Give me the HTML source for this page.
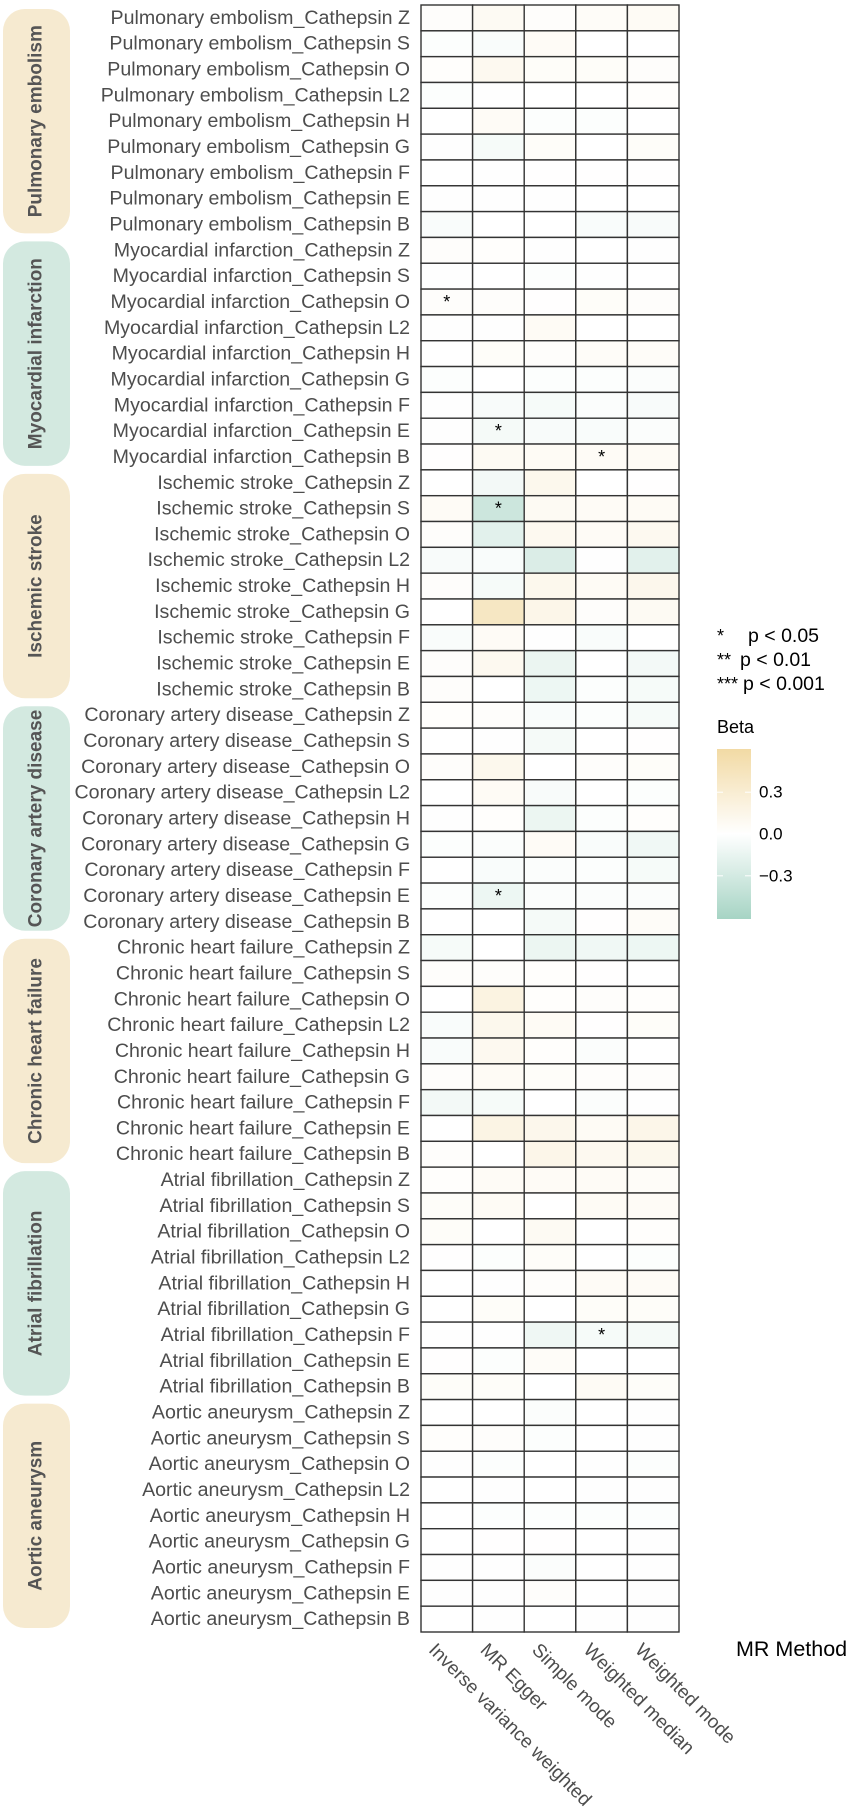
<!DOCTYPE html>
<html><head><meta charset="utf-8"><style>
html,body{margin:0;padding:0;background:#fff;width:852px;height:1808px;overflow:hidden}
svg{display:block;font-family:"Liberation Sans",sans-serif}
</style></head><body>
<svg id="chart" width="852" height="1808" viewBox="0 0 852 1808" xmlns="http://www.w3.org/2000/svg"></svg>
<script>
const methods = ["Inverse variance weighted","MR Egger","Simple mode","Weighted median","Weighted mode"];
const diseases = ["Pulmonary embolism","Myocardial infarction","Ischemic stroke","Coronary artery disease","Chronic heart failure","Atrial fibrillation","Aortic aneurysm"];
const cathepsins = ["Z","S","O","L2","H","G","F","E","B"];
const betaIVW = [.03,-.02,.02,-.02,0,-.01,0,-.01,-.04, .03,-.01,.03,-.01,0,-.02,-.01,-.01,.01, 0,.06,.03,-.05,.03,0,-.04,.03,.03, .02,0,.03,0,-.01,-.02,0,-.02,0, -.06,.03,0,-.04,-.04,.03,-.08,0,.03, .02,.04,.04,.01,0,0,-.01,.01,.04, 0,.02,-.01,0,0,0,-.01,-.01,0];
const betaEgger = [.08,-.04,.1,-.01,.06,-.06,-.01,-.01,0, .02,0,.03,-.01,.04,0,-.05,-.07,.08, -.08,-.35,-.2,-.04,-.06,.4,.06,.1,0, .03,-.01,.12,.07,.02,-.03,-.04,-.12,0, 0,.03,.2,.12,.1,.07,-.06,.18,0, .06,.07,0,-.02,-.01,.04,-.01,-.02,.04, 0,.03,-.02,-.01,-.02,.01,-.01,-.01,-.01];
const betaSimple = [.03,.06,.04,0,-.02,.04,.01,-.01,0, -.01,-.02,.01,.07,.03,-.02,-.06,-.05,.07, .12,.08,.1,-.25,.12,.15,-.01,-.14,-.12, -.04,-.07,0,-.05,-.13,.06,-.03,-.03,-.07, -.13,.02,.02,.07,.02,.04,0,.13,.15, .06,0,.08,.04,.03,0,-.11,.05,0, -.03,-.02,0,0,-.02,.01,-.03,.03,0];
const betaWMedian = [.05,0,.04,0,-.02,0,.01,0,-.04, 0,-.01,.04,0,.05,-.02,-.03,-.04,.06, 0,.06,.06,-.01,.07,.03,-.04,0,-.02, -.02,0,.03,0,-.02,-.04,-.02,-.03,.01, -.1,.01,.03,.01,-.03,.03,-.03,.07,.1, .06,.07,0,0,.06,.04,-.06,0,.07, 0,0,-.01,-.01,-.02,0,0,0,-.01];
const betaWMode = [.07,0,.03,.02,0,.04,.01,0,-.05, -.01,0,.03,0,.05,-.03,-.05,-.03,.07, .01,.07,.1,-.2,.13,.08,0,-.08,-.06, -.06,.01,.04,-.02,.02,-.1,-.06,-.03,.05, -.12,0,.02,.04,0,.03,-.01,.15,.12, .05,.06,.02,-.02,.06,.04,-.07,0,.04, -.01,-.01,-.02,-.01,-.02,-.01,-.01,-.01,-.01];
const sigStars = [[11,0,"*"],[16,1,"*"],[17,3,"*"],[19,1,"*"],[34,1,"*"],[51,3,"*"]];
const legendTicks = [0.3,0.0,-0.3];
const legendStars = [["*","p < 0.05"],["**","p < 0.01"],["***","p < 0.001"]];

const NS="http://www.w3.org/2000/svg";
const svg=document.getElementById("chart");
function mk(t,a,p){const e=document.createElementNS(NS,t);for(const k in a)e.setAttribute(k,a[k]);(p||svg).appendChild(e);return e;}
const X0=421,X1=679,Y0=5,Y1=1632;
const nRows=diseases.length*cathepsins.length;
const cw=(X1-X0)/methods.length, rh=(Y1-Y0)/nRows;
const xPos=i=>X0+i*cw, yPos=r=>Y0+r*rh;
const VMAX=0.61;
const hi=[242,218,164], lo=[166,212,196];
function color(v){const t=Math.max(-1,Math.min(1,v/VMAX));const c=t>=0?hi:lo;const a=Math.abs(t);
 return "rgb("+[0,1,2].map(i=>Math.round(255+(c[i]-255)*a)).join(",")+")";}
const series=[betaIVW,betaEgger,betaSimple,betaWMedian,betaWMode];

diseases.forEach((d,g)=>{
 const y=yPos(g*9)+4,h=9*rh-8;
 const r=mk("rect",{x:3,y:y,width:67,height:h,rx:22,fill:g%2?"#d3e9e0":"#f6ead0"});
 
 
 const cy=y+h/2;
 const t=mk("text",{x:36,y:cy,transform:"rotate(-90 36 "+cy+")","text-anchor":"middle","dominant-baseline":"central","font-size":"19","font-weight":"bold",fill:"#555"});
 t.textContent=d;
 
 
});
for(let r=0;r<nRows;r++){
 const d=diseases[Math.floor(r/9)], c=cathepsins[r%9];
 const lab=mk("text",{x:410,y:yPos(r)+rh/2,"text-anchor":"end","dominant-baseline":"central","font-size":"19.6",fill:"#4d4d4d"});
 lab.textContent=d+"_Cathepsin "+c;
 
 
 for(let m=0;m<methods.length;m++){
  const cell=mk("rect",{x:xPos(m),y:yPos(r),width:cw,height:rh,fill:color(series[m][r]),stroke:"#333","stroke-width":"1.4"});
  
  
 }
}
sigStars.forEach(s=>{
 const t=mk("text",{x:xPos(s[1])+cw/2,y:yPos(s[0])+rh/2+6,"text-anchor":"middle","font-size":"18",fill:"#000"});
 t.textContent=s[2];
 
 
});
methods.forEach((m,i)=>{
 const x=xPos(i)+cw/2-10,y=1642;
 const t=mk("text",{x:x,y:y,transform:"rotate(45 "+x+" "+y+")","font-size":"19",fill:"#4d4d4d","dominant-baseline":"hanging"});
 t.textContent=m;
 
 
});
const xt=mk("text",{x:736,y:1656,"font-size":"21.5",fill:"#000"});xt.textContent="MR Method";


legendStars.forEach((s,i)=>{
 const y=642+i*24;
 const a=mk("text",{x:717,y:y,"font-size":"18",fill:"#000"});a.textContent=s[0];
 
 
 const b=mk("text",{x:[748,740,743][i],y:y,"font-size":"19.5",fill:"#000"});b.textContent=s[1];
 
 
});
const bt=mk("text",{x:717,y:733,"font-size":"18",fill:"#000"});bt.textContent="Beta";


const CB0=749,CB1=919,CBmid=(CB0+CB1)/2,cbScale=(CB1-CB0)/2/VMAX;
const defs=mk("defs",{});
const gr=mk("linearGradient",{id:"cb",x1:0,y1:0,x2:0,y2:1},defs);
mk("stop",{offset:"0","stop-color":color(VMAX)},gr);mk("stop",{offset:"0.5","stop-color":"#fff"},gr);mk("stop",{offset:"1","stop-color":color(-VMAX)},gr);
const cb=mk("rect",{x:717,y:CB0,width:34,height:CB1-CB0,fill:"url(#cb)"});


legendTicks.forEach(v=>{
 const y=CBmid-v*cbScale;
 mk("line",{x1:717,x2:723,y1:y,y2:y,stroke:"#fff","stroke-width":"1"});
 mk("line",{x1:745,x2:751,y1:y,y2:y,stroke:"#fff","stroke-width":"1"});
 const t=mk("text",{x:759,y:y,"dominant-baseline":"central","font-size":"17",fill:"#000"});
 t.textContent=(v<0?"\u2212":"")+Math.abs(v).toFixed(1);
 
 
});
</script>
</body></html>
